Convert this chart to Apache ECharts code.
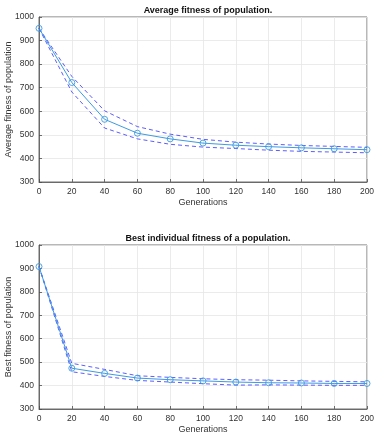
<!DOCTYPE html>
<html>
<head>
<meta charset="utf-8">
<script src="https://cdn.jsdelivr.net/npm/echarts@6/dist/echarts.min.js"></script>
<style>
  html, body { margin: 0; padding: 0; background: #fff; }
  #chart { width: 374px; height: 438px; }
</style>
</head>
<body>
<div id="chart"></div>
<script>
const generations = [0, 20, 40, 60, 80, 100, 120, 140, 160, 180, 200]

// average fitness of population
const avgMean = [952, 722, 566, 507, 483, 465, 456, 450, 445, 441, 437]
const avgUpper = [952, 748, 602, 535, 503, 481, 469, 461, 455, 451, 447]
const avgLower = [952, 682, 529, 483, 460, 448, 442, 435, 430, 427, 424]

// best individual fitness
const bestMean = [908, 474, 452, 432, 425, 420, 415, 412, 411, 409, 409]
const bestUpper = [908, 495, 469, 442, 435, 429, 425, 423, 420, 418, 416]
const bestLower = [908, 459, 439, 422, 415, 408, 402, 403, 402, 401, 401]

const yTicks = { min: 300, max: 1000, interval: 100 }

const font = 'Liberation Sans, Arial, sans-serif'
const axisColor = '#4d4d4d'
const meanColor = '#3d9be0'
const bandColor = '#2a2aff'

const pairs = (ys) => generations.map((g, i) => [g, ys[i]])

const makeX = (gridIndex) => ({
  type: 'value',
  gridIndex,
  min: 0,
  max: 200,
  interval: 20,
  name: 'Generations',
  nameLocation: 'middle',
  nameGap: 16,
  nameMoveOverlap: false,
  nameTextStyle: { fontFamily: font, fontSize: 9, color: '#333' },
  axisLine: { show: true, onZero: false, lineStyle: { color: axisColor, width: 0.8 } },
  axisTick: { show: true, inside: true, length: 3, lineStyle: { color: axisColor, width: 0.8 } },
  axisLabel: { fontFamily: font, fontSize: 8.5, color: '#333', margin: 5, formatter: (v) => String(v) },
  splitLine: { show: true, lineStyle: { color: '#e6e6e6', width: 0.8 } },
})

const makeY = (gridIndex, name) => ({
  type: 'value',
  gridIndex,
  ...yTicks,
  name,
  nameLocation: 'middle',
  nameGap: 26,
  nameMoveOverlap: false,
  nameTextStyle: { fontFamily: font, fontSize: 9, color: '#333' },
  axisLine: { show: true, lineStyle: { color: axisColor, width: 0.8 } },
  axisTick: { show: true, inside: true, length: 3, lineStyle: { color: axisColor, width: 0.8 } },
  axisLabel: { fontFamily: font, fontSize: 8.5, color: '#333', margin: 5, formatter: (v) => String(v) },
  splitLine: { show: true, lineStyle: { color: '#e6e6e6', width: 0.8 } },
})

const band = (data, idx) => ({
  type: 'line',
  xAxisIndex: idx,
  yAxisIndex: idx,
  data: pairs(data),
  symbol: 'none',
  silent: true,
  lineStyle: { color: bandColor, width: 0.9, type: [4, 3], opacity: 0.85 },
})

const mean = (data, idx) => ({
  type: 'line',
  xAxisIndex: idx,
  yAxisIndex: idx,
  data: pairs(data),
  symbol: 'circle',
  symbolSize: 6,
  lineStyle: { color: meanColor, width: 1 },
  itemStyle: { color: 'rgba(255,255,255,0)', borderColor: meanColor, borderWidth: 0.9 },
  z: 3,
})

const chart = echarts.init(document.getElementById('chart'), null, { renderer: 'canvas' })

chart.setOption({
  animation: false,
  backgroundColor: '#fff',
  title: [
    {
      text: 'Average fitness of population.',
      left: 203, top: 1, textAlign: 'center',
      textStyle: { fontFamily: font, fontSize: 9, fontWeight: 'bold', color: '#111' },
    },
    {
      text: 'Best individual fitness of a population.',
      left: 203, top: 229, textAlign: 'center',
      textStyle: { fontFamily: font, fontSize: 9, fontWeight: 'bold', color: '#111' },
    },
  ],
  grid: [
    { left: 39, top: 17, width: 328, height: 165, containLabel: false, outerBoundsMode: 'none', show: true, borderColor: axisColor, borderWidth: 0.8 },
    { left: 39, top: 245, width: 328, height: 164, containLabel: false, outerBoundsMode: 'none', show: true, borderColor: axisColor, borderWidth: 0.8 },
  ],
  xAxis: [makeX(0), makeX(1)],
  yAxis: [makeY(0, 'Average fitness of population'), makeY(1, 'Best fitness of population')],
  series: [
    band(avgUpper, 0),
    band(avgLower, 0),
    mean(avgMean, 0),
    band(bestUpper, 1),
    band(bestLower, 1),
    mean(bestMean, 1),
  ],
})
</script>
</body>
</html>
